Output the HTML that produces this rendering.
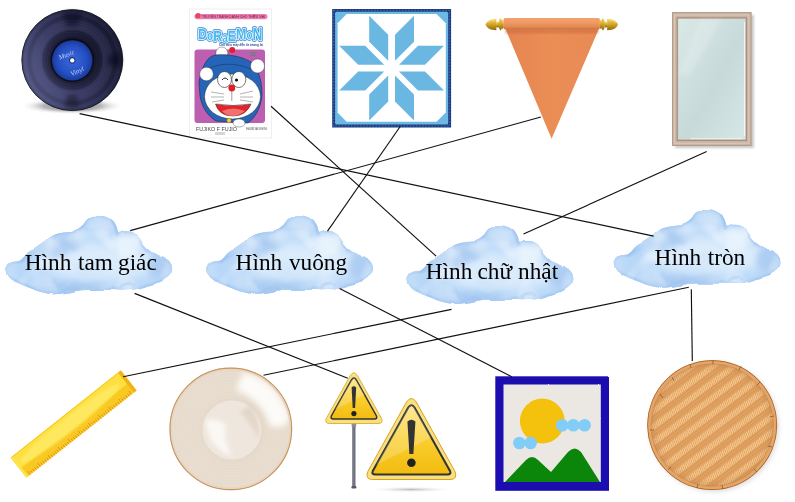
<!DOCTYPE html>
<html><head><meta charset="utf-8">
<style>
html,body{margin:0;padding:0;background:#fff;width:795px;height:502px;overflow:hidden}
svg{display:block}
</style></head><body>
<svg width="795" height="502" viewBox="0 0 795 502">
<defs>
<radialGradient id="cg" cx="0.5" cy="0.55" r="0.6">
<stop offset="0" stop-color="#dcebfb"/><stop offset="0.6" stop-color="#cbe1f8"/><stop offset="1" stop-color="#a9cbf0"/>
</radialGradient>
<path id="cpath" d="M6.5,271.0 C6.2,268.8 7.1,266.5 8.0,265.0 C8.9,263.5 10.2,262.7 12.0,262.0 C13.8,261.3 17.2,261.7 19.0,261.0 C20.8,260.3 21.5,259.4 23.0,258.0 C24.5,256.6 25.8,254.2 28.0,252.5 C30.2,250.8 33.2,249.8 36.0,248.0 C38.8,246.2 42.0,243.7 45.0,241.5 C48.0,239.3 50.7,236.5 54.0,235.0 C57.3,233.5 61.5,232.9 65.0,232.3 C68.5,231.7 72.0,232.2 75.0,231.2 C78.0,230.1 80.8,227.9 83.0,226.0 C85.2,224.1 86.2,221.0 88.0,219.5 C89.8,218.0 91.5,217.6 94.0,217.0 C96.5,216.4 100.0,215.4 103.0,216.0 C106.0,216.6 109.8,218.6 112.0,220.5 C114.2,222.4 115.4,225.4 116.5,227.5 C117.6,229.6 117.2,232.4 118.5,233.0 C119.8,233.6 121.8,231.4 124.0,231.3 C126.2,231.2 129.5,231.3 132.0,232.4 C134.5,233.5 137.0,235.6 139.0,237.8 C141.0,240.0 142.4,243.3 144.2,245.5 C146.0,247.7 147.4,249.2 150.0,251.0 C152.6,252.8 156.9,254.8 160.0,256.5 C163.1,258.2 166.5,259.7 168.5,261.5 C170.5,263.3 171.6,265.5 172.0,267.5 C172.4,269.5 172.0,271.7 171.0,273.5 C170.0,275.3 168.2,276.9 166.0,278.5 C163.8,280.1 160.8,281.8 158.0,283.0 C155.2,284.2 152.2,284.6 149.0,285.5 C145.8,286.4 142.2,287.8 139.0,288.5 C135.8,289.2 133.0,289.7 130.0,290.0 C127.0,290.3 124.0,290.5 121.0,290.5 C118.0,290.5 115.0,290.1 112.0,290.0 C109.0,289.9 106.0,290.0 103.0,290.0 C100.0,290.0 97.7,290.0 94.0,290.0 C90.3,290.0 85.3,289.8 81.0,290.2 C76.7,290.6 72.5,291.8 68.0,292.5 C63.5,293.2 58.5,294.3 54.0,294.2 C49.5,294.1 45.0,293.0 41.0,292.0 C37.0,291.0 33.7,289.4 30.0,288.0 C26.3,286.6 22.3,285.2 19.0,283.5 C15.7,281.8 12.1,280.1 10.0,278.0 C7.9,275.9 6.8,273.2 6.5,271.0Z"/>
<clipPath id="cclip"><use href="#cpath"/></clipPath>
<filter id="rough" x="-5%" y="-10%" width="110%" height="120%">
<feTurbulence type="fractalNoise" baseFrequency="0.05" numOctaves="1" seed="5" result="t"/>
<feDisplacementMap in="SourceGraphic" in2="t" scale="5" xChannelSelector="R" yChannelSelector="G"/>
<feGaussianBlur stdDeviation="0.6"/>
</filter>
<filter id="mott" x="0" y="0" width="1" height="1" filterUnits="objectBoundingBox">
<feTurbulence type="fractalNoise" baseFrequency="0.035" numOctaves="2" seed="11" result="n"/>
<feColorMatrix in="n" type="matrix" values="0 0 0 0 0.62  0 0 0 0 0.77  0 0 0 0 0.95  4 0 0 0 -2.0" result="d"/>
<feColorMatrix in="n" type="matrix" values="0 0 0 0 0.88  0 0 0 0 0.94  0 0 0 0 0.99  0 -4 0 0 1.9" result="l"/>
<feMerge><feMergeNode in="d"/><feMergeNode in="l"/></feMerge>
<feComposite in2="SourceAlpha" operator="in"/>
</filter>
<filter id="rough2" x="-5%" y="-5%" width="110%" height="110%">
<feTurbulence type="fractalNoise" baseFrequency="0.5" numOctaves="1" seed="2" result="t"/>
<feDisplacementMap in="SourceGraphic" in2="t" scale="1.8" xChannelSelector="R" yChannelSelector="G"/>
</filter>
<clipPath id="sclipS"><path d="M351.5,380 Q353.9,376 356.3,380 L376.5,416 Q377.5,419 374.5,419 L333.3,419 Q330.3,419 331.3,416Z"/></clipPath>
<clipPath id="sclipB"><path d="M408.3,407.5 Q411.4,403 414.5,407.5 L450,471 Q451.5,474.5 447.5,474.5 L375.3,474.5 Q371.3,474.5 372.8,471Z"/></clipPath>
<filter id="cb6" x="-50%" y="-50%" width="200%" height="200%"><feGaussianBlur stdDeviation="6"/></filter>
<filter id="cb3" x="-50%" y="-50%" width="200%" height="200%"><feGaussianBlur stdDeviation="3"/></filter>
<filter id="cb15" x="-50%" y="-50%" width="200%" height="200%"><feGaussianBlur stdDeviation="1.2"/></filter>
<g id="cloud">
<g filter="url(#rough)">
<use href="#cpath" fill="#b9d8f8"/>
<g clip-path="url(#cclip)">
<use href="#cpath" fill="none" stroke="#a0c6f2" stroke-width="4" filter="url(#cb15)"/>
<ellipse cx="100" cy="262" rx="58" ry="19" fill="#dbecfc" filter="url(#cb6)"/>
<ellipse cx="126" cy="246" rx="18" ry="11" fill="#d8e9fb" filter="url(#cb3)"/>
<ellipse cx="102" cy="228" rx="10" ry="8" fill="#cfe3f9" filter="url(#cb3)"/>
<ellipse cx="60" cy="246" rx="22" ry="9" fill="#aecdf2" filter="url(#cb3)" transform="rotate(-20 60 246)"/>
<ellipse cx="75" cy="287" rx="35" ry="5" fill="#a9caf1" filter="url(#cb3)"/>
<ellipse cx="158" cy="266" rx="10" ry="12" fill="#aecdf2" filter="url(#cb3)"/>
<path d="M20,262 Q40,250 55,238 M70,233 Q80,230 86,224" fill="none" stroke="#98bdec" stroke-width="2" filter="url(#cb15)" opacity="0.7"/>
<use href="#cpath" fill="#000" filter="url(#mott)" opacity="0.6"/>
<path d="M112,222 Q118,228 117,236 M140,240 Q146,250 150,252 M60,292 Q70,284 80,290 M120,289 Q125,282 135,286" fill="none" stroke="#98bdec" stroke-width="2" filter="url(#cb15)" opacity="0.6"/>
</g>
</g>
</g>
<radialGradient id="recg" cx="0.5" cy="0.5" r="0.5">
<stop offset="0.42" stop-color="#101020" stop-opacity="0.6"/><stop offset="0.5" stop-color="#2c2d52" stop-opacity="0.2"/><stop offset="0.62" stop-color="#4a4d80" stop-opacity="0.35"/><stop offset="0.75" stop-color="#12132a" stop-opacity="0.3"/><stop offset="0.9" stop-color="#3a3d68" stop-opacity="0.2"/><stop offset="1" stop-color="#0a0a18" stop-opacity="0.5"/>
</radialGradient>
<radialGradient id="recr" cx="0.5" cy="0.5" r="0.5">
<stop offset="0.44" stop-color="#0b0b18" stop-opacity="0.55"/><stop offset="0.58" stop-color="#0b0b18" stop-opacity="0.25"/><stop offset="0.64" stop-color="#6a6da8" stop-opacity="0.18"/><stop offset="0.78" stop-color="#6a6da8" stop-opacity="0.15"/><stop offset="0.86" stop-color="#0b0b18" stop-opacity="0.15"/><stop offset="0.95" stop-color="#6a6da8" stop-opacity="0.12"/><stop offset="1" stop-color="#0b0b18" stop-opacity="0.3"/>
</radialGradient>
<linearGradient id="recl" x1="0" y1="0.75" x2="1" y2="0.25">
<stop offset="0" stop-color="#5a5e8a"/><stop offset="0.4" stop-color="#33355a"/><stop offset="0.75" stop-color="#1d1f38"/><stop offset="1" stop-color="#111226"/>
</linearGradient>
<radialGradient id="shad2" cx="0.5" cy="0.5" r="0.5">
<stop offset="0" stop-color="#8a8a8a"/><stop offset="0.55" stop-color="#b4b4b4"/><stop offset="1" stop-color="#fff" stop-opacity="0"/>
</radialGradient>
<filter id="noop" x="0" y="0" width="795" height="502" filterUnits="userSpaceOnUse"><feOffset dx="0" dy="0"/></filter>
<filter id="bl2" x="-20%" y="-20%" width="140%" height="140%"><feGaussianBlur stdDeviation="2"/></filter>
<filter id="bl1" x="-20%" y="-20%" width="140%" height="140%"><feGaussianBlur stdDeviation="1"/></filter>
<filter id="bl3" x="-30%" y="-30%" width="160%" height="160%"><feGaussianBlur stdDeviation="3"/></filter>
<radialGradient id="labg" cx="0.5" cy="0.5" r="0.5">
<stop offset="0" stop-color="#3a68d8"/><stop offset="0.7" stop-color="#2550c4"/><stop offset="1" stop-color="#1a3a9a"/>
</radialGradient>
<radialGradient id="shad" cx="0.5" cy="0.5" r="0.5">
<stop offset="0" stop-color="#b8b8b8"/><stop offset="1" stop-color="#fff" stop-opacity="0"/>
</radialGradient>
<linearGradient id="roll" x1="0" y1="0" x2="0" y2="1">
<stop offset="0" stop-color="#f0a36d"/><stop offset="0.35" stop-color="#f29c65"/><stop offset="0.8" stop-color="#e38953"/><stop offset="1" stop-color="#c9713f"/>
</linearGradient>
<linearGradient id="penn" x1="0" y1="0" x2="1" y2="0">
<stop offset="0" stop-color="#e58450"/><stop offset="0.5" stop-color="#eb8e56"/><stop offset="1" stop-color="#e88a54"/>
</linearGradient>
<linearGradient id="gold" x1="0" y1="0" x2="0" y2="1">
<stop offset="0" stop-color="#f3d670"/><stop offset="0.45" stop-color="#d9a928"/><stop offset="1" stop-color="#8e6a10"/>
</linearGradient>
<linearGradient id="glass" x1="0" y1="0" x2="1" y2="1">
<stop offset="0" stop-color="#d9e9e8"/><stop offset="0.55" stop-color="#c7d9d9"/><stop offset="1" stop-color="#d5e7e5"/>
</linearGradient>
<linearGradient id="ysign" x1="0" y1="0" x2="0" y2="1">
<stop offset="0" stop-color="#fde27a"/><stop offset="0.5" stop-color="#f9cf2e"/><stop offset="1" stop-color="#f3bb10"/>
</linearGradient>
<linearGradient id="pole" x1="0" y1="0" x2="1" y2="0">
<stop offset="0" stop-color="#3e414d"/><stop offset="0.5" stop-color="#8a8e9c"/><stop offset="1" stop-color="#454855"/>
</linearGradient>
<radialGradient id="plateg" cx="0.5" cy="0.5" r="0.5">
<stop offset="0" stop-color="#efe6dc"/><stop offset="0.55" stop-color="#ebe0d4"/><stop offset="0.9" stop-color="#e7dccf"/><stop offset="1" stop-color="#ddc9b3"/>
</radialGradient>
<radialGradient id="basg" cx="0.5" cy="0.5" r="0.5">
<stop offset="0" stop-color="#f0b880" stop-opacity="0.3"/><stop offset="0.85" stop-color="#e09d62" stop-opacity="0"/><stop offset="1" stop-color="#b87a42"/>
</radialGradient>
<pattern id="weave" patternUnits="userSpaceOnUse" width="3.2" height="12.6" patternTransform="rotate(-37) skewX(-55)">
<rect width="3.2" height="12.6" fill="#e0a262"/>
<rect x="0.4" y="0.4" width="1.9" height="5.8" rx="0.8" fill="#f5c98f"/>
<rect x="0" y="7.2" width="3.2" height="0.9" fill="#c98748" opacity="0.5"/>
<rect x="0" y="9.8" width="3.2" height="0.9" fill="#c98748" opacity="0.5"/>
</pattern>
<clipPath id="basclip"><circle cx="712.2" cy="425.1" r="62"/></clipPath>
</defs>
<g filter="url(#noop)">

<!-- VINYL -->
<ellipse cx="72" cy="106" rx="52" ry="8.5" fill="url(#shad2)"/>
<circle cx="72.3" cy="60.1" r="50.5" fill="#2a2c48" stroke="#0d0d18" stroke-width="0.8"/>
<circle cx="72.3" cy="60.1" r="50" fill="url(#recl)"/>
<circle cx="72.3" cy="60.1" r="50" fill="url(#recr)"/>
<g fill="none" stroke="#5c5f98" stroke-opacity="0.22" stroke-width="0.5">
<circle cx="72.3" cy="60.1" r="46"/><circle cx="72.3" cy="60.1" r="43"/><circle cx="72.3" cy="60.1" r="40"/><circle cx="72.3" cy="60.1" r="37"/><circle cx="72.3" cy="60.1" r="34"/><circle cx="72.3" cy="60.1" r="31"/><circle cx="72.3" cy="60.1" r="28"/><circle cx="72.3" cy="60.1" r="25"/>
</g>
<g filter="url(#bl2)"><path d="M62,13 Q72,10 82,13 L77,27 Q72,25 67,27Z" fill="#07070f" opacity="0.45"/>
<path d="M64,107 Q72,110 80,107 L76,94 Q72,96 68,94Z" fill="#07070f" opacity="0.35"/>
<path d="M120,52 Q122,60 120,68 L107,64 Q109,60 107,56Z" fill="#07070f" opacity="0.45"/></g>
<circle cx="72.3" cy="60.1" r="21.8" fill="#0c0c18"/>
<circle cx="72.3" cy="60.4" r="20.2" fill="url(#labg)"/>
<circle cx="72.3" cy="60.4" r="3.1" fill="#182a6a"/>
<circle cx="72.3" cy="60.4" r="2.2" fill="#fff"/>
<text x="58" y="57" font-size="6.8" font-family="Liberation Serif" font-style="italic" fill="#c2d2f8" transform="rotate(-22 66 54)">Music</text>
<text x="69.5" y="74" font-size="6.8" font-family="Liberation Serif" font-style="italic" fill="#c2d2f8" transform="rotate(-25 76 70)">Vinyl</text>

<!-- BOOK -->
<rect x="189.5" y="9" width="82" height="129" fill="#fff" stroke="#ececec" stroke-width="0.8"/>
<rect x="194.5" y="14" width="73" height="5.2" rx="2.6" fill="#f07db0"/>
<circle cx="198" cy="15.5" r="2.6" fill="#e84560"/>
<text x="202" y="18" font-size="3.4" fill="#5a2040" font-family="Liberation Sans" textLength="63" lengthAdjust="spacingAndGlyphs">TRUYỆN TRANH DÀNH CHO THIẾU NHI</text>
<g font-size="15" font-weight="bold" font-family="Liberation Sans">
<text x="198" y="38.5" textLength="64.5" lengthAdjust="spacingAndGlyphs" fill="#2f86d6" stroke="#2f86d6" stroke-width="3.4" stroke-linejoin="round"><tspan>D</tspan><tspan dy="1" font-size="12">o</tspan><tspan dy="1">R</tspan><tspan dy="1.5" font-size="12">a</tspan><tspan dy="-1.5">E</tspan><tspan dy="-2">M</tspan><tspan dy="0" font-size="12">o</tspan><tspan dy="1" font-size="16.5">N</tspan></text>
<text x="198" y="38.5" textLength="64.5" lengthAdjust="spacingAndGlyphs" fill="#fff" stroke="#fff" stroke-width="1.7" stroke-linejoin="round"><tspan>D</tspan><tspan dy="1" font-size="12">o</tspan><tspan dy="1">R</tspan><tspan dy="1.5" font-size="12">a</tspan><tspan dy="-1.5">E</tspan><tspan dy="-2">M</tspan><tspan dy="0" font-size="12">o</tspan><tspan dy="1" font-size="16.5">N</tspan></text>
<text x="198" y="38.5" textLength="64.5" lengthAdjust="spacingAndGlyphs" fill="#45b8f0"><tspan>D</tspan><tspan dy="1" font-size="12">o</tspan><tspan dy="1">R</tspan><tspan dy="1.5" font-size="12">a</tspan><tspan dy="-1.5">E</tspan><tspan dy="-2">M</tspan><tspan dy="0" font-size="12">o</tspan><tspan dy="1" font-size="16.5">N</tspan></text>
</g>
<text x="219" y="45.8" font-size="3.6" fill="#2a4a9a" font-family="Liberation Sans" font-weight="bold" textLength="44" lengthAdjust="spacingAndGlyphs">Chú mèo máy đến từ tương lai</text>
<rect x="194.5" y="49.5" width="70.5" height="73.5" rx="3" fill="#bd5fb0"/>
<text x="250.5" y="55.5" font-size="4.5" fill="#2ca050" font-family="Liberation Sans" font-weight="bold">15</text>
<circle cx="221.8" cy="53" r="6" fill="#fff" stroke="#333" stroke-width="0.4"/>
<circle cx="232.2" cy="50" r="3" fill="#e41e2a"/>
<path d="M199,82 C201,70 205,60 212,56 C220,53 240,55 251,62 C258,68 262,80 262,95 C261,108 255,118 248,123 L216,121 C208,116 202,108 200,96Z" fill="#2565b8" stroke="#1b2a55" stroke-width="0.6"/><path d="M207,70 C218,62 240,62 256,72" stroke="#1b2a55" stroke-width="0.5" fill="none"/>
<circle cx="257.5" cy="66" r="7" fill="#fff" stroke="#333" stroke-width="0.4"/>
<circle cx="206.5" cy="74" r="6.8" fill="#fff" stroke="#333" stroke-width="0.4"/>
<ellipse cx="232.5" cy="96.5" rx="28" ry="22.5" fill="#fff" stroke="#222" stroke-width="0.5"/>
<ellipse cx="224.5" cy="79.5" rx="7" ry="8" fill="#fff" stroke="#222" stroke-width="0.6"/>
<ellipse cx="238.8" cy="79.5" rx="7" ry="8" fill="#fff" stroke="#222" stroke-width="0.6"/>
<path d="M222,80 Q225,76 228,80" stroke="#111" stroke-width="0.9" fill="none"/>
<circle cx="236.5" cy="80" r="1.6" fill="#111"/>
<circle cx="231.8" cy="88" r="3.4" fill="#e31c25"/>
<line x1="231.8" y1="91" x2="231.8" y2="101" stroke="#444" stroke-width="0.5"/>
<path d="M215.5,104 Q233,107 251,104 Q246,116 233,116 Q219,116 215.5,104Z" fill="#e3242b" stroke="#222" stroke-width="0.5"/>
<path d="M222,111 Q233,106 245,111 Q239,116 233,116 Q226,116 222,111Z" fill="#f07070"/>
<g stroke="#555" stroke-width="0.45"><line x1="211" y1="92" x2="224" y2="94"/><line x1="211" y1="97" x2="224" y2="97"/><line x1="212" y1="102" x2="224" y2="100"/><line x1="240" y1="94" x2="253" y2="91"/><line x1="240" y1="97" x2="253" y2="97"/><line x1="240" y1="100" x2="253" y2="102"/></g>
<circle cx="229" cy="120.5" r="2.2" fill="#f2d21c" stroke="#555" stroke-width="0.3"/>
<ellipse cx="239" cy="123" rx="6" ry="4" fill="#fff" stroke="#333" stroke-width="0.4"/>
<text x="196" y="130.5" font-size="5.4" fill="#444" font-family="Liberation Sans">FUJIKO F FUJIO</text>
<rect x="215" y="132" width="10" height="3" fill="#999" opacity="0.4"/>
<text x="246" y="129.5" font-size="2.8" fill="#444" font-family="Liberation Sans" textLength="21" lengthAdjust="spacingAndGlyphs">NHÀ XUẤT BẢN KIM ĐỒNG</text>

<!-- SNOWFLAKE SQUARE -->
<rect x="332.2" y="9" width="118.9" height="118.5" fill="#1b3a7c"/>
<rect x="333.7" y="10.5" width="115.9" height="115.5" fill="none" stroke="#3a64a8" stroke-width="1.3" stroke-dasharray="1.6 1.5"/>
<rect x="335.1" y="11.8" width="113.1" height="112.6" rx="1.5" fill="#6cb9e3"/>
<polygon points="346.6,14 436.6,14 445.8,23.2 445.8,112.6 436.6,121.8 346.6,121.8 337.6,112.6 337.6,23.2" fill="#fff"/>
<g fill="#6ab8e2">
<polygon points="369.2,15.7 388.2,34.7 388.2,60.7 369.2,41.7"/>
<polygon points="444.0,45.7 425.0,64.7 399.0,64.7 418.0,45.7"/>
<polygon points="414.0,120.5 395.0,101.5 395.0,75.5 414.0,94.5"/>
<polygon points="339.2,90.5 358.2,71.5 384.2,71.5 365.2,90.5"/>
<polygon points="414.0,15.7 395.0,34.7 395.0,60.7 414.0,41.7"/>
<polygon points="444.0,90.5 425.0,71.5 399.0,71.5 418.0,90.5"/>
<polygon points="369.2,120.5 388.2,101.5 388.2,75.5 369.2,94.5"/>
<polygon points="339.2,45.7 358.2,64.7 384.2,64.7 365.2,45.7"/>
</g>

<!-- PENNANT -->
<polygon points="505.5,29 598.8,29 551.6,138.8" fill="url(#penn)"/>
<rect x="505" y="28.5" width="93.5" height="5" fill="#b85c30" opacity="0.35" filter="url(#bl1)"/>
<rect x="503.6" y="18" width="96.3" height="11.2" rx="1.5" fill="url(#roll)"/>
<g id="finL">
<path d="M485.6,24.6 C486.8,20.5 491,18.8 496.4,18.9 L496.4,30.2 C491,30.3 486.8,28.7 485.6,24.6Z" fill="url(#gold)"/>
<path d="M487.5,22.5 C489.5,20.6 492,20 495,20" stroke="#fbe9a0" stroke-width="0.8" fill="none" opacity="0.8"/>
<rect x="496.2" y="21.8" width="2.8" height="5.6" fill="url(#gold)"/>
<ellipse cx="500.5" cy="24.3" rx="1.8" ry="6.1" fill="url(#gold)"/>
<ellipse cx="502.6" cy="24.3" rx="1.2" ry="4.6" fill="url(#gold)"/>
</g>
<use href="#finL" transform="translate(1103.5,0) scale(-1,1)"/>

<!-- MIRROR -->
<rect x="675" y="15" width="79" height="133" fill="#bdbdbd" filter="url(#bl1)" opacity="0.8"/>
<rect x="672" y="12" width="79.5" height="134" fill="#c9b3a3"/>
<rect x="672.5" y="12.5" width="78.5" height="133" fill="none" stroke="#b59d8c" stroke-width="1"/>
<rect x="674.6" y="15" width="74.3" height="128.3" fill="none" stroke="#d8c7ba" stroke-width="1.2"/>
<rect x="677.2" y="17.8" width="69.2" height="122.6" fill="none" stroke="#a68c7a" stroke-width="1"/>
<rect x="678.2" y="18.9" width="67.3" height="120.4" fill="url(#glass)"/>
<polygon points="700,19 722,19 690,75 678.2,75" fill="#fff" opacity="0.18" filter="url(#bl2)"/>
<line x1="744.5" y1="22" x2="744.5" y2="136" stroke="#fff" stroke-width="1" opacity="0.7"/>
<line x1="690" y1="138.6" x2="742" y2="138.6" stroke="#fff" stroke-width="1" opacity="0.6"/>

<!-- CLOUDS -->
<use href="#cloud"/>
<use href="#cloud" transform="translate(200.7,-0.2)"/>
<use href="#cloud" transform="translate(401.1,9.8)"/>
<use href="#cloud" transform="translate(608.3,-6.4)"/>
<!-- TEXT -->
<g font-size="23.3" fill="#000" font-family="Liberation Serif, serif" filter="url(#noop)">
<text transform="translate(24.8,269.9) scale(1,0.95)">Hình</text>
<text transform="translate(78,269.9) scale(1,0.95)">tam</text>
<text transform="translate(118,269.9) scale(1,0.95)">giác</text>
<text transform="translate(235.6,269.7) scale(1,0.95)">Hình</text>
<text transform="translate(288.9,269.7) scale(1,0.95)">vuông</text>
<text transform="translate(425.7,279.2) scale(1,0.95)">Hình</text>
<text transform="translate(477.5,279.2) scale(1,0.95)">chữ</text>
<text transform="translate(518,279.2) scale(1,0.95)">nhật</text>
<text transform="translate(654.6,264.9) scale(1,0.95)">Hình</text>
<text transform="translate(707.7,264.9) scale(1,0.95)">tròn</text>
</g>

<!-- RULER -->
<g transform="translate(10.7,457.7) rotate(-38.38)">
<rect x="0" y="0" width="140.5" height="25.5" rx="1" fill="#f9c923"/>
<rect x="0" y="0" width="140.5" height="14.5" rx="1" fill="#fde040"/>
<ellipse cx="67" cy="10" rx="63" ry="7" fill="#fee85e" filter="url(#bl1)"/>
<rect x="137" y="0" width="3.5" height="25.5" fill="#f0b316"/>
<rect x="0" y="0" width="2.5" height="25.5" fill="#fde44c"/>
<line x1="0" y1="0.4" x2="140" y2="0.4" stroke="#f3c21c" stroke-width="0.8"/>
<path d="M5.0,25.5 L5.0,21.0 M7.6,25.5 L7.6,22.5 M10.2,25.5 L10.2,22.5 M12.7,25.5 L12.7,22.5 M15.3,25.5 L15.3,22.5 M17.9,25.5 L17.9,21.0 M20.5,25.5 L20.5,22.5 M23.1,25.5 L23.1,22.5 M25.6,25.5 L25.6,22.5 M28.2,25.5 L28.2,22.5 M30.8,25.5 L30.8,21.0 M33.4,25.5 L33.4,22.5 M36.0,25.5 L36.0,22.5 M38.5,25.5 L38.5,22.5 M41.1,25.5 L41.1,22.5 M43.7,25.5 L43.7,21.0 M46.3,25.5 L46.3,22.5 M48.9,25.5 L48.9,22.5 M51.4,25.5 L51.4,22.5 M54.0,25.5 L54.0,22.5 M56.6,25.5 L56.6,21.0 M59.2,25.5 L59.2,22.5 M61.8,25.5 L61.8,22.5 M64.3,25.5 L64.3,22.5 M66.9,25.5 L66.9,22.5 M69.5,25.5 L69.5,21.0 M72.1,25.5 L72.1,22.5 M74.7,25.5 L74.7,22.5 M77.2,25.5 L77.2,22.5 M79.8,25.5 L79.8,22.5 M82.4,25.5 L82.4,21.0 M85.0,25.5 L85.0,22.5 M87.6,25.5 L87.6,22.5 M90.1,25.5 L90.1,22.5 M92.7,25.5 L92.7,22.5 M95.3,25.5 L95.3,21.0 M97.9,25.5 L97.9,22.5 M100.5,25.5 L100.5,22.5 M103.0,25.5 L103.0,22.5 M105.6,25.5 L105.6,22.5 M108.2,25.5 L108.2,21.0 M110.8,25.5 L110.8,22.5 M113.4,25.5 L113.4,22.5 M115.9,25.5 L115.9,22.5 M118.5,25.5 L118.5,22.5 M121.1,25.5 L121.1,21.0 M123.7,25.5 L123.7,22.5 M126.3,25.5 L126.3,22.5 M128.8,25.5 L128.8,22.5 M131.4,25.5 L131.4,22.5 M134.0,25.5 L134.0,21.0" stroke="#e38c12" stroke-width="0.9"/>
</g>

<!-- PLATE -->
<circle cx="230.8" cy="428.9" r="61.4" fill="#e8ddcf"/>
<g fill="none" stroke="#e2d6c8" stroke-width="0.6" opacity="0.8"><circle cx="232.6" cy="429" r="34" /><circle cx="232.6" cy="429" r="37" /><circle cx="232.6" cy="429" r="40" /><circle cx="232.6" cy="429" r="43" /><circle cx="232.6" cy="429" r="46" /><circle cx="232.6" cy="429" r="49" /><circle cx="232.6" cy="429" r="52" /><circle cx="232.6" cy="429" r="55" /><circle cx="232.6" cy="429" r="58" /></g>
<path d="M243,372 Q278,380 290,418 Q286,430 270,426 Q262,400 236,390Z" fill="#fdfbf8" filter="url(#bl3)"/>
<circle cx="233" cy="429.5" r="32" fill="#e4d8ca" filter="url(#bl2)"/>
<circle cx="232" cy="430" r="29.5" fill="#efe7de"/>
<path d="M206,420 Q208,448 232,456 Q222,440 226,425 Q215,418 206,420Z" fill="#fbf8f4" filter="url(#bl2)"/>
<path d="M250,405 Q262,420 258,440 Q252,425 240,412Z" fill="#e0d3c4" filter="url(#bl2)" opacity="0.8"/>
<circle cx="230.8" cy="428.9" r="60.8" fill="none" stroke="#c99560" stroke-width="1.2"/>
<circle cx="230.8" cy="428.9" r="59.3" fill="none" stroke="#e6d4bf" stroke-width="1.2"/>

<!-- WARNING SIGNS -->
<rect x="352.4" y="421" width="3" height="67" fill="url(#pole)"/>
<rect x="351.6" y="423" width="4.6" height="3.5" fill="#8d909a"/>
<rect x="351.4" y="486" width="5" height="2.6" rx="1" fill="#555a66"/>
<ellipse cx="411" cy="489.5" rx="44" ry="3" fill="url(#shad)"/>
<path d="M350.4,375.5 Q353.9,370 357.4,375.5 L381.6,418.5 Q383.5,423.5 378,423.5 L329.8,423.5 Q324.3,423.5 326.2,418.5Z" fill="#f8df80" stroke="#d6a41c" stroke-width="0.8"/>
<path d="M351.5,380 Q353.9,376 356.3,380 L376.5,416 Q377.5,419 374.5,419 L333.3,419 Q330.3,419 331.3,416Z" fill="url(#ysign)" stroke="#333" stroke-width="1.5"/>
<polygon points="326,414 382,386 382,370 326,370" fill="#fff" opacity="0.2" clip-path="url(#sclipS)"/>
<path d="M351.6,387.5 Q353.9,385 356.2,387.5 L355.1,408 L352.7,408Z" fill="#333"/>
<circle cx="353.9" cy="413.6" r="2.6" fill="#222"/>
<path d="M406.5,402 Q411.4,395 416.3,402 L455,471.5 Q458,479.5 450,479.5 L372.8,479.5 Q364.8,479.5 367.8,471.5Z" fill="#f8df80" stroke="#d6a41c" stroke-width="1"/>
<path d="M408.3,407.5 Q411.4,403 414.5,407.5 L450,471 Q451.5,474.5 447.5,474.5 L375.3,474.5 Q371.3,474.5 372.8,471Z" fill="url(#ysign)" stroke="#333" stroke-width="2"/>
<polygon points="366,470 458,424 458,396 366,396" fill="#fff" opacity="0.2" clip-path="url(#sclipB)"/>
<path d="M407.4,421.5 Q411.4,418 415.4,421.5 L413.4,454 L409.4,454Z" fill="#333"/>
<circle cx="411.4" cy="462.8" r="4.3" fill="#222"/>

<!-- PICTURE FRAME -->
<g filter="url(#rough2)">
<rect x="495.3" y="376.3" width="113.7" height="114.5" fill="#1a10b0"/>
<rect x="503.5" y="384.5" width="97.3" height="97.5" fill="#ebe8e4"/>
</g>
<circle cx="542.3" cy="421" r="22.4" fill="#f4c20d"/>
<g fill="#82cdf8"><circle cx="562.2" cy="425.3" r="6.3"/><circle cx="573.4" cy="425.3" r="6.3"/><circle cx="584.6" cy="425.3" r="6.3"/><circle cx="519.4" cy="443" r="6.3"/><circle cx="530.6" cy="443" r="6.3"/></g>
<path d="M505,482 L526,460 Q532,454 538,460 L551,472 L568,452 Q574.7,445 581,452 L600,482Z" fill="#0b860b"/>

<!-- BASKET -->
<circle cx="714" cy="427" r="65" fill="#aaa" opacity="0.35" filter="url(#bl2)"/>
<circle cx="712.2" cy="425.1" r="65" fill="#e0a060"/>
<circle cx="712.2" cy="425.1" r="61.5" fill="url(#weave)"/>
<circle cx="712.2" cy="425.1" r="61.5" fill="url(#basg)" opacity="0.35"/>
<circle cx="712.2" cy="425.1" r="64.5" fill="none" stroke="#a96c38" stroke-width="1"/>
<circle cx="712.2" cy="425.1" r="62.6" fill="none" stroke="#e4a566" stroke-width="2.6"/>
<circle cx="712.2" cy="425.1" r="61.2" fill="none" stroke="#c0824a" stroke-width="0.6" opacity="0.8"/>
<g stroke="#7a4a25" stroke-width="0.8" opacity="0.8">
<line x1="660" y1="394" x2="663" y2="398"/><line x1="672" y1="377" x2="674" y2="381"/><line x1="690" y1="364" x2="691" y2="368"/><line x1="713" y1="360.5" x2="713" y2="364.5"/><line x1="741" y1="366" x2="739" y2="370"/><line x1="760" y1="382" x2="757" y2="385"/><line x1="774" y1="416" x2="770" y2="417"/><line x1="772" y1="447" x2="768" y2="446"/><line x1="757" y1="472" x2="754" y2="469"/><line x1="723" y1="489" x2="722" y2="485"/><line x1="697" y1="488" x2="698" y2="484"/><line x1="668" y1="470" x2="671" y2="467"/><line x1="650" y1="430" x2="654" y2="430"/>
</g>

<!-- LINES -->
<g stroke="#111" stroke-width="1.15" fill="none">
<line x1="79.6" y1="113.6" x2="653.6" y2="236.1"/>
<line x1="271" y1="106.2" x2="436.1" y2="256.1"/>
<line x1="400.2" y1="126.5" x2="327.5" y2="231.2"/>
<line x1="540.9" y1="117" x2="130.2" y2="230.6"/>
<line x1="706.7" y1="151.4" x2="523.5" y2="234.1"/>
<line x1="134.6" y1="293.4" x2="347.8" y2="378.2"/>
<line x1="339.6" y1="288.4" x2="511.7" y2="376.7"/>
<line x1="451.5" y1="309.4" x2="123.1" y2="376.7"/>
<line x1="688.8" y1="287.3" x2="263.5" y2="375.3"/>
<line x1="691.3" y1="289.3" x2="692.3" y2="361.1"/>
</g>
</g>
</svg>
</body></html>
